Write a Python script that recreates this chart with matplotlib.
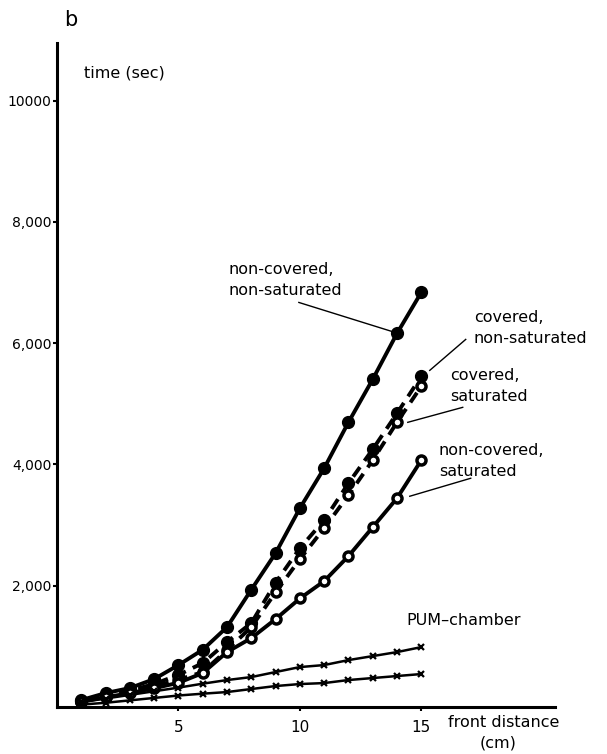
import matplotlib.pyplot as plt
import numpy as np

# front distance (cm)
dist = [1, 2, 3, 4, 5, 6, 7, 8, 9, 10, 11, 12, 13, 14, 15]

# time (sec)
noncov_nonsat = [115, 230, 313, 461, 692, 945, 1318, 1935, 2537, 3278, 3937, 4695, 5404, 6161, 6837]
cov_nonsat = [100, 190, 270, 380, 530, 725, 1071, 1384, 2051, 2619, 3081, 3690, 4250, 4843, 5453]
cov_sat = [90, 170, 250, 340, 450, 577, 939, 1318, 1890, 2438, 2949, 3493, 4069, 4695, 5288]
noncov_sat = [90, 160, 230, 310, 400, 560, 906, 1137, 1450, 1790, 2076, 2488, 2965, 3443, 4069]
pum_upper = [80, 140, 200, 260, 320, 385, 445, 494, 577, 659, 692, 774, 840, 906, 988]
pum_lower = [40, 70, 110, 150, 190, 220, 247, 297, 346, 379, 395, 445, 478, 511, 544]

yticks = [2000, 4000, 6000, 8000, 10000]
yticklabels = ['2,000', '4,000', '6,000', '8,000', '10000']
xticks = [5, 10, 15]

fig = plt.figure(figsize=(6.07, 7.54), dpi=100)
ax = fig.add_axes([0.094, 0.0623, 0.82, 0.8806])
ax.set_xlim(0, 20.5)
ax.set_ylim(0, 10950)

ax.plot(dist, noncov_nonsat, '-', color='black', lw=2.8, marker='o', ms=8.5, mfc='black', mec='black')
ax.plot(dist, cov_nonsat, '--', color='black', lw=2.8, dashes=(3, 2), marker='o', ms=8.5, mfc='black', mec='black')
ax.plot(dist, cov_sat, '--', color='black', lw=2.8, dashes=(3, 2), marker='o', ms=6.5, mfc='white', mec='black', mew=2.5)
ax.plot(dist, noncov_sat, '-', color='black', lw=2.8, marker='o', ms=6.5, mfc='white', mec='black', mew=2.5)
ax.plot(dist, pum_upper, '-', color='black', lw=1.8, marker='x', ms=5, mew=1.6)
ax.plot(dist, pum_lower, '-', color='black', lw=1.8, marker='x', ms=5, mew=1.6)

for s in ['top', 'right']:
    ax.spines[s].set_visible(False)
for s in ['left', 'bottom']:
    ax.spines[s].set_linewidth(2.2)

ax.set_yticks(yticks)
ax.set_yticklabels(yticklabels)
ax.set_xticks(xticks)
ax.tick_params(axis='both', direction='out', length=3, width=1.5, labelsize=10, pad=1)
ax.tick_params(axis='x', pad=6, labelsize=11)

txt = dict(fontsize=11.5, color='black', linespacing=1.5)

def px(x, y):
    # pixel position on the reference -> data coords
    return (x - 57) / 24.3, (707 - y) / 0.0607

ax.text(*px(229, 280), 'non-covered,\nnon-saturated', va='center', ha='left', **txt)
ax.text(*px(474, 328), 'covered,\nnon-saturated', va='center', ha='left', **txt)
ax.text(*px(450, 386), 'covered,\nsaturated', va='center', ha='left', **txt)
ax.text(*px(439, 461), 'non-covered,\nsaturated', va='center', ha='left', **txt)
ax.text(*px(407, 620), 'PUM\u2013chamber', va='center', ha='left', **txt)
ax.text(*px(448, 722), 'front distance', va='center', ha='left', clip_on=False, **txt)
ax.text(*px(480, 743), '(cm)', va='center', ha='left', clip_on=False, **txt)
ax.text(*px(84, 72), 'time (sec)', va='center', ha='left', **txt)
fig.text(64 / 607, 1 - 20 / 754, 'b', fontsize=15, va='center', ha='left')

leaders = [((299, 302), (392, 331)),
           ((466, 339), (430, 370)),
           ((463, 407), (408, 422)),
           ((471, 478), (410, 496))]
for (x0, y0), (x1, y1) in leaders:
    a, b = px(x0, y0)
    c, d = px(x1, y1)
    ax.plot([a, c], [b, d], color='black', lw=1.0)

fig.savefig('out.png', dpi=100)
